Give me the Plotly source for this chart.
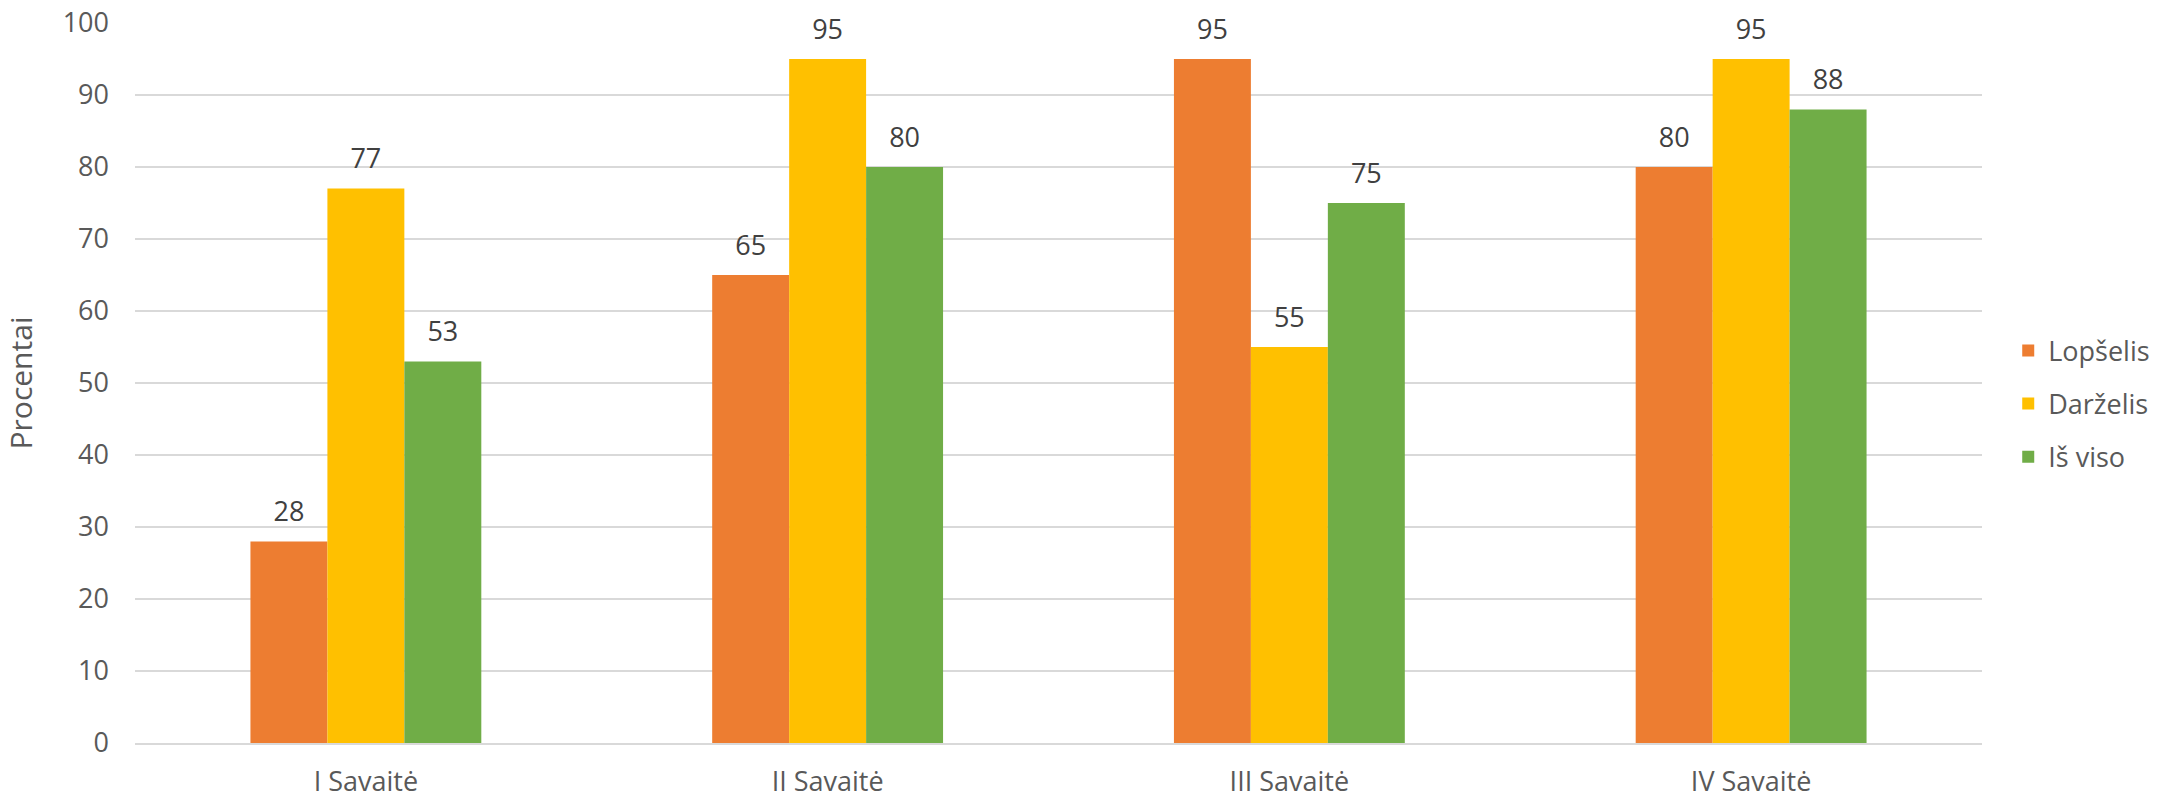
import plotly.graph_objects as go

categories = ["I Savaitė", "II Savaitė", "III Savaitė", "IV Savaitė"]
lopselis = [28, 65, 95, 80]
darzelis = [77, 95, 55, 95]
is_viso = [53, 80, 75, 88]

series = [
    ("Lopšelis", lopselis, "#ED7D31"),
    ("Darželis", darzelis, "#FFC000"),
    ("Iš viso", is_viso, "#70AD47"),
]
y_ticks = list(range(0, 101, 10))

FONT = "'Open Sans', 'Noto Sans', sans-serif"
TXT = "#595959"
FS = 27

fig = go.Figure()
for i, (name, vals, col) in enumerate(series):
    fig.add_trace(go.Bar(
        x=categories, y=vals, name=name, marker=dict(color=col, line=dict(width=0)),
        offsetgroup=str(i), legendgroup=name,
    ))
for i, (name, vals, col) in enumerate(series):
    fig.add_trace(go.Scatter(
        x=categories, y=vals, mode="markers+text", text=[str(v) for v in vals],
        textposition="top center", textfont=dict(size=FS, color="#404040", family=FONT),
        marker=dict(size=20, opacity=0), showlegend=False, hoverinfo="skip",
        offsetgroup=str(i), cliponaxis=False,
    ))

fig.update_layout(
    width=2178, height=798,
    margin=dict(l=135, r=196, t=23, b=55),
    paper_bgcolor="white", plot_bgcolor="white",
    barmode="group", bargap=0.5, bargroupgap=0,
    scattermode="group", scattergap=0.5,
    font=dict(family=FONT, size=FS, color=TXT),
    legend=dict(x=1.0142, xanchor="left", y=0.471, yanchor="middle",
                font=dict(size=FS, color=TXT), tracegroupgap=15,
                bgcolor="rgba(0,0,0,0)"),
    xaxis=dict(showgrid=False, showline=True, linecolor="#d9d9d9", linewidth=2,
               ticks="", tickfont=dict(size=FS, color=TXT), ticklabelstandoff=14,
               ticklabeloverflow="allow", automargin=False),
    yaxis=dict(range=[0, 100], tickvals=y_ticks, showgrid=True, gridcolor="#d9d9d9",
               gridwidth=2, zeroline=False, showline=False, ticks="",
               tickfont=dict(size=FS, color=TXT), ticklabelstandoff=25,
               ticklabeloverflow="allow", automargin=False,
               title=dict(text="Procentai", font=dict(size=30, color=TXT), standoff=31)),
)

fig.write_html("out.html", config={"displayModeBar": False},
               post_script="document.body.style.margin='0';")
